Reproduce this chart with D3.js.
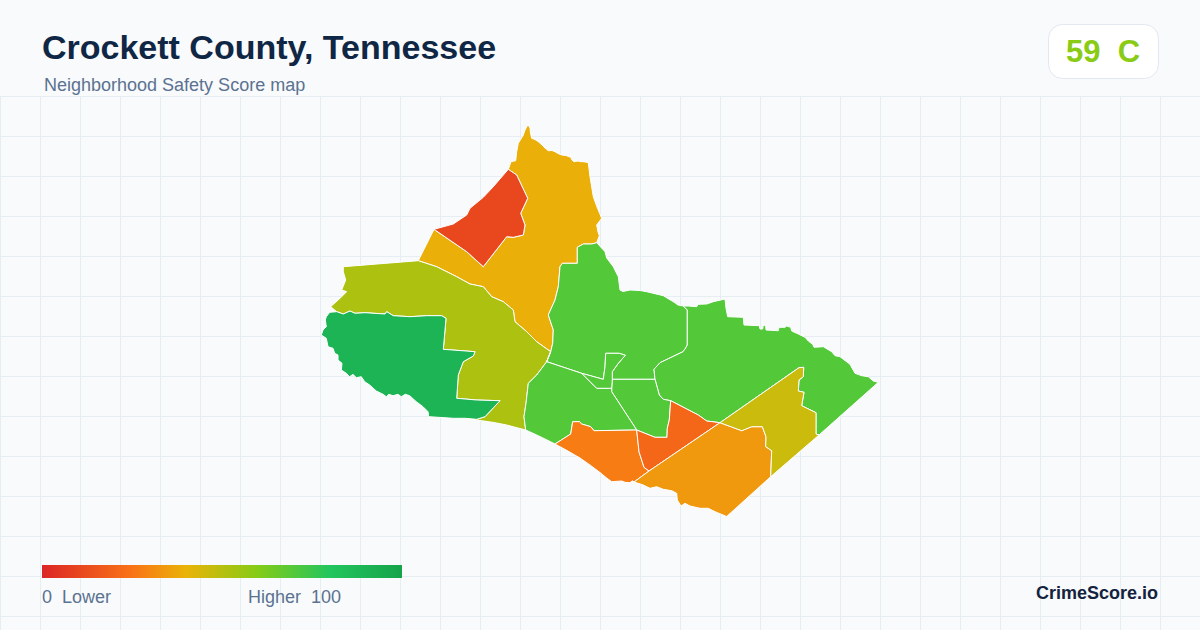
<!DOCTYPE html>
<html>
<head>
<meta charset="utf-8">
<title>Crockett County, Tennessee</title>
<script src="https://cdn.jsdelivr.net/npm/d3@7"></script>
<style>
  html, body { margin: 0; padding: 0; background: #f8fafc; }
  svg { display: block; }
  text { font-family: "Liberation Sans", Arial, sans-serif; white-space: pre; }
</style>
</head>
<body>
<div id="map"></div>
<script>
// Score scale and legend
var scoreStops = [0, 25, 40, 60, 80, 100];
var scoreColors = ["#dc2626", "#f97316", "#eab308", "#84cc16", "#22c55e", "#16a34a"];
var legendLabels = ["0  Lower", "Higher  100"];

// County summary
var countyTitle = "Crockett County, Tennessee";
var countySubtitle = "Neighborhood Safety Score map";
var countyScore = 59;
var countyGrade = "C";

// Tract scores
var tractNames = ["north", "northwest", "west", "southwest", "central", "east", "midSouth", "southCentral", "notch", "south", "midRed", "southeast", "eastOlive"];
var tractScores = [39, 11, 52, 90, 70, 70, 70, 70, 70, 27, 21, 34, 46];

// Tract boundaries in planar map units, shared arcs so neighbours line up
var northEdge = [[188.3,49.3],[191,41.7],[195.7,40.7],[196.7,31.7],[198.3,23.3],[203.3,15],[205,10],[207.7,5],[209,6],[210,8.3],[210.5,13],[211.7,18.3],[215,19.5],[218.3,21.7],[222,25],[225,28],[228.3,30.7],[232,30.5],[235,31.7],[238,33.5],[241.7,35],[246,35.5],[250.7,37.3],[252,40],[254,41.7],[258,41],[261,41.7],[264,41.7],[268.3,42.7],[270,56.7],[273.3,76.7],[277,87],[281.7,98.3],[276.7,105],[278,112],[279.3,115.7],[276.7,122.7]];
var arcNorthCentral = [[276.7,122.7],[271.7,124],[263.3,124],[257.3,127.3],[257.3,143.3],[242.3,143.3],[240,146.7],[238.3,166.7],[235,180],[229,193.3],[228.3,195],[233.3,210],[232.7,223.3],[230.7,231.7]];
var arcNorthWest = [[230.7,231.7],[216.7,221.7],[206.7,211.7],[195,201.7],[193.3,190],[183.3,181.7],[171.7,176.7],[163.3,166.7],[150,164],[136.7,156.7],[116.7,146.7],[98.3,140.7]];
var arcNorthRed = [[114,109.3],[146.7,131.7],[163.3,146.7],[186.7,116.7],[193.3,117.3],[203.3,115],[205,105],[200.7,93.3],[207.7,78.3],[196.7,55],[188.3,49.3]];
var redEdge = [[188.3,49.3],[173.3,66.7],[163.3,77.3],[150,88.3],[146.7,95],[133.3,104],[114,109.3]];
var westTop = [[23.3,146.7],[98.3,140.7]];
var arcWestMid = [[230.7,231.7],[226.7,241.7],[216.7,255],[208.3,263.3],[206,283.3],[204,296.7],[205.7,310]];
var westSouth = [[205.7,310],[196,307.5],[186.7,305],[174,302.5],[161.7,300.7],[145,298.3]];
var arcWestGreen = [[145,298.3],[156.7,299.3],[165,296.7],[180,280.7],[156.7,280],[136.7,278.3],[138.3,255],[143.3,241.7],[153.3,236],[155,231.7],[123.3,229.3],[125,210],[126,198.3],[121.7,195.7],[106.7,195.7],[90,196.7],[73.3,195.7],[66.7,191.7],[65,194],[45,192.7],[35,193.3],[30,191],[23.3,194],[16.7,191.7]];
var westEnd = [[16.7,191.7],[10.7,186.7],[20,178.3],[26.7,171.7],[21.7,170],[25.7,160],[23.3,151.7],[23.3,146.7]];
var greenRiver = [[16.7,191.7],[9.7,192.3],[6.3,196.7],[5.3,200],[6.3,206.7],[3,210],[1.3,215],[6.3,218.3],[8,226.7],[13,228.3],[14.7,233.3],[18,235],[18,240],[22,243.3],[21.3,250],[26.3,253.3],[29.7,256.7],[33,254.3],[36.3,257.7],[41.3,256.7],[44.7,261.7],[49.7,265],[56.3,271],[63,274.3],[66.3,276.7],[68.7,274.3],[73,275.7],[78,274.3],[81.3,276.7],[85.3,274.3],[89.7,275.7],[96.3,281.7],[103,286.7],[108,291.7],[108.7,296.7],[118.3,297.3],[133.3,298.3],[145,298.3]];
var centralNorth = [[276.7,122.7],[285,131.7],[286.7,138],[293.3,146.7],[298.3,156.7],[300,170],[303,171.5],[310,170],[320,170.5],[326.7,171.7],[343.3,175.7],[353.3,181.7],[358,185],[363.3,186]];
var arcCentralEast = [[363.3,186],[367.3,190],[367.3,225],[365,229],[363,231.7],[340,242.7],[334,249.3],[335,259.3]];
var notchEdge = [[292.3,259.3],[292.3,251.7],[298.3,243.3],[305.3,235.3],[299.3,233.3],[285.7,233.3],[285,246.7],[283.3,259.3]];
var arcCentralSouth = [[283.3,259.3],[261.7,253.3],[226.7,241.7]];
var arcEastMid = [[335,259.3],[339.3,275],[343.3,279.3],[350.7,280.7]];
var arcMidRed = [[350.7,280.7],[349.3,300],[347.3,308.3],[347,317.3],[335,317.3],[316.7,310]];
var arcMidSouth = [[316.7,310],[291.7,271.7],[291.7,268.3]];
var arcSouthTop = [[235,324],[250.7,314],[252.7,301.7],[259.3,301.7],[261.7,304],[270.7,306.7],[274,310.7],[316.7,310]];
var arcSouthRed = [[316.7,310],[319,331.7],[324,347.3],[329,351]];
var southCurve = [[314,362],[312.7,360.7],[310,362.7],[305,362.3],[301.7,361],[291.7,361.7],[286,357.5],[280,352.5],[270,345],[260,338],[247,330.5],[235,324]];
var southCentralCurve = [[235,324],[225,319],[216.7,315],[205.7,310]];
var arcRedEast = [[350.7,280.7],[378.3,295],[386.7,301],[400,302.7]];
var arcSoutheastOlive = [[400,302.7],[421.7,310.7],[431.7,306.7],[442.3,306.7],[446,316.7],[445.7,326.7],[451.7,330.7],[450.7,356.7]];
var southeastEdge = [[450.7,356.7],[406.7,396.5],[395,391.7],[388.3,388.3],[380,388.3],[370,386],[365,383.3],[361,386],[357.3,380],[356.7,373.3],[351.7,370.7],[343.3,369.3],[336.7,366.7],[330,368.3],[323.3,365],[314,362]];
var arcOliveEast = [[400,302.7],[479,247.7],[483.7,247.3],[483.3,256.7],[479,260],[478.3,271],[484,272.3],[481.7,285.7],[496,292.7],[496,314],[499,315]];
var oliveEdge = [[499,315],[450.7,356.7]];
var eastNorth = [[363.3,186],[368.3,186],[376.7,186.7],[378.3,184.3],[386.7,184],[393.3,181.7],[405,179],[406,188.3],[407.7,196.7],[423.3,197.3],[424,205],[439.3,205.7],[440,209],[442.7,209],[443.3,205],[445.7,205.7],[446,210],[458.3,210.7],[459,207.3],[465,207.3],[466.7,206],[470.7,207.3],[471.7,211],[478.3,214],[485,217.3],[488.3,221],[492.7,224.3],[494,227.3],[503.3,226.7],[511.7,231.7],[515,235.7],[520,236.7],[530,244.3],[535,253.3],[541.7,255.7],[548.3,256.7],[553.3,261],[558.3,262.3],[499,315]];

function rev(arc) { return arc.slice().reverse(); }

var tractRings = [
  [northEdge, arcNorthCentral, arcNorthWest, arcNorthRed],
  [arcNorthRed, redEdge],
  [westTop, rev(arcNorthWest), arcWestMid, westSouth, arcWestGreen, westEnd],
  [arcWestGreen, greenRiver],
  [rev(arcNorthCentral), centralNorth, arcCentralEast, notchEdge, arcCentralSouth],
  [eastNorth, rev(arcOliveEast), rev(arcRedEast), rev(arcEastMid), rev(arcCentralEast)],
  [[[292.3,259.3],[335,259.3]], arcEastMid, arcMidRed, arcMidSouth],
  [[[226.7,241.7],[261.7,253.3],[276.7,268.3],[291.7,268.3]], rev(arcMidSouth), rev(arcSouthTop), southCentralCurve, rev(arcWestMid)],
  [notchEdge, [[261.7,253.3],[276.7,268.3],[291.7,268.3]]],
  [arcSouthTop, arcSouthRed, southCurve],
  [rev(arcMidRed), arcRedEast, [[329,351]], rev(arcSouthRed)],
  [arcSoutheastOlive, southeastEdge, [[329,351]]],
  [arcOliveEast, oliveEdge, rev(arcSoutheastOlive)]
];

var tracts = {
  type: "FeatureCollection",
  features: tractNames.map(function(name, i) {
    var ring = d3.merge(tractRings[i]);
    ring.push(ring[0]);
    return { type: "Feature", properties: { name: name, score: tractScores[i] },
      geometry: { type: "Polygon", coordinates: [ring] } };
  })
};

var svgWidth = 1200;
var svgHeight = 630;

var svg = d3.select("#map").append("svg")
  .attr("width", svgWidth)
  .attr("height", svgHeight);

var color = d3.scaleLinear().domain(scoreStops).range(scoreColors);

// Background grid starts under the header
var gridTop = 96.5;
var grid = svg.append("g").attr("stroke", "#e6eef3").attr("stroke-width", 1);
grid.selectAll(".v").data(d3.range(0.5, svgWidth, 40)).enter().append("line")
  .attr("x1", d => d).attr("x2", d => d).attr("y1", gridTop).attr("y2", svgHeight);
grid.selectAll(".h").data(d3.range(gridTop, svgHeight, 40)).enter().append("line")
  .attr("x1", 0).attr("x2", svgWidth).attr("y1", d => d).attr("y2", d => d);

// Map
var projection = d3.geoIdentity().fitExtent([[321.3, 125], [878.3, 516.5]], tracts);
var path = d3.geoPath(projection);

svg.append("g").selectAll("path")
  .data(tracts.features)
  .enter()
  .append("path")
  .attr("d", path)
  .attr("fill", d => color(d.properties.score))
  .attr("stroke", "#ffffff")
  .attr("stroke-width", 1)
  .attr("stroke-linejoin", "round");

// Header
svg.append("text").attr("x", 42).attr("y", 59)
  .attr("font-size", 34).attr("font-weight", 700).attr("fill", "#0f2744")
  .text(countyTitle);
svg.append("text").attr("x", 44).attr("y", 91)
  .attr("font-size", 18).attr("fill", "#5b7290")
  .text(countySubtitle);

// Score badge
svg.append("rect").attr("x", 1048.5).attr("y", 24.5).attr("width", 110).attr("height", 54).attr("rx", 14)
  .attr("fill", "#ffffff").attr("stroke", "#e2e8f0");
svg.append("text").attr("x", 1103).attr("y", 62).attr("text-anchor", "middle")
  .attr("font-size", 31).attr("font-weight", 700).attr("fill", color(countyScore))
  .text(countyScore + "  " + countyGrade);

// Legend
var legendX = d3.scaleLinear().domain([0, 100]).range([42, 402]);
var gradient = svg.append("defs").append("linearGradient").attr("id", "legendGradient");
gradient.selectAll("stop").data(scoreStops).enter().append("stop")
  .attr("offset", d => d + "%")
  .attr("stop-color", d => color(d));
svg.append("rect").attr("x", legendX(0)).attr("y", 565)
  .attr("width", legendX(100) - legendX(0)).attr("height", 13)
  .attr("fill", "url(#legendGradient)");
svg.append("text").attr("x", legendX(0)).attr("y", 603)
  .attr("font-size", 18).attr("fill", "#5b7290").text(legendLabels[0]);
svg.append("text").attr("x", 341).attr("y", 603).attr("text-anchor", "end")
  .attr("font-size", 18).attr("fill", "#5b7290").text(legendLabels[1]);

svg.append("text").attr("x", 1158).attr("y", 599).attr("text-anchor", "end")
  .attr("font-size", 18).attr("font-weight", 700).attr("fill", "#14233c")
  .text("CrimeScore.io");
</script>
</body>
</html>
